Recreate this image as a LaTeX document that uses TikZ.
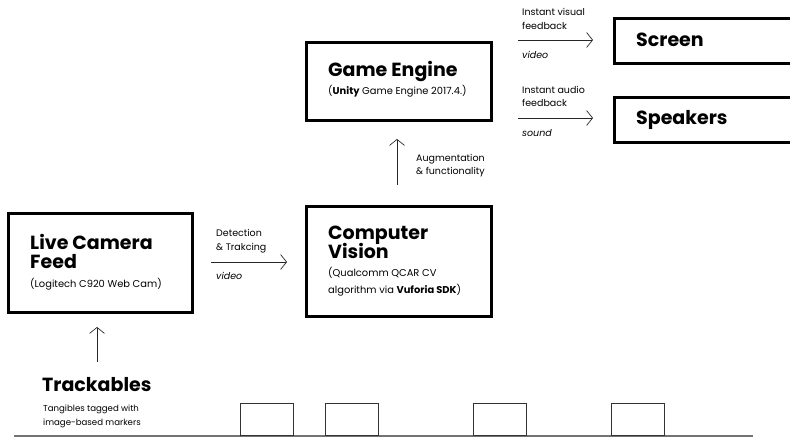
\documentclass[tikz,border=0pt]{standalone}
\usepackage{fontspec}
\setmainfont{Poppins}
\usetikzlibrary{arrows.meta}
\tikzset{
  box/.style={draw=black, line width=2.6pt, minimum width=#1, anchor=north west, inner sep=0pt},
  head/.style={anchor=base west, inner sep=0pt, font=\fontsize{19}{19}\selectfont\bfseries},
  sub/.style={anchor=base west, inner sep=0pt, font=\fontsize{9.9}{11}\selectfont},
  lab/.style={anchor=base west, inner sep=0pt, font=\fontsize{9.5}{11}\selectfont},
  ital/.style={lab, font=\fontsize{9.5}{11}\selectfont\itshape},
  small/.style={sub, font=\fontsize{8.6}{10}\selectfont},
  arr/.style={-{Straight Barb[length=6pt,width=15pt]}, line width=0.7pt, draw=black!85},
  marker/.style={draw=black!80, line width=1pt, minimum width=53pt, minimum height=32pt, anchor=south west, inner sep=0pt},
}
\begin{document}
\begin{tikzpicture}[x=1pt,y=-1pt]
\useasboundingbox (0,0) rectangle (790,438);

% --- camera ---
\node[box=184pt, minimum height=99pt] (cam) at (7,212) {};
\node[head] (camA) at (30,250) {Live Camera};
\node[head] (camB) at (30,269) {Feed};
\node[sub] (camC) at (30,288) {(Logitech C920 Web Cam)};

% --- computer vision ---
\node[box=185pt, minimum height=110pt] (cv) at (305,205) {};
\node[head] (cvA) at (328,240) {Computer};
\node[head] (cvB) at (328,259) {Vision};
\node[sub] (cvC) at (328,277) {(Qualcomm QCAR CV};
\node[sub] (cvD) at (328,294) {algorithm via \textbf{Vuforia SDK})};

% --- game engine ---
\node[box=185pt, minimum height=78pt] (ge) at (305,41) {};
\node[head] (geA) at (328,77) {Game Engine};
\node[sub] (geB) at (328,95) {(\textbf{Unity} Game Engine 2017.4.)};

% --- outputs ---
\node[box=190pt, minimum height=45pt] (scr) at (613,17) {};
\node[head] (scrA) at (636,47) {Screen};
\node[box=190pt, minimum height=45pt] (spk) at (613,96) {};
\node[head] (spkA) at (636,125) {Speakers};

% --- arrows ---
\coordinate (d1) at (211,262); \coordinate (d2) at (287,262);
\draw[arr] (d1) -- (d2);
\node[lab] (dA) at (216,237) {Detection};
\node[lab] (dB) at (216,251) {\& Trakcing};
\node[ital] (dC) at (216,280) {video};

\coordinate (u1) at (397,185); \coordinate (u2) at (397,139);
\draw[arr] (u1) -- (u2);
\node[lab] (uA) at (416,162) {Augmentation};
\node[lab] (uB) at (416,175) {\& functionality};

\coordinate (v1) at (518,40); \coordinate (v2) at (593,40);
\draw[arr] (v1) -- (v2);
\node[lab] (vA) at (522,16) {Instant visual};
\node[lab] (vB) at (522,30) {feedback};
\node[ital] (vC) at (522,59) {video};

\coordinate (s1) at (518,118); \coordinate (s2) at (593,118);
\draw[arr] (s1) -- (s2);
\node[lab] (sA) at (522,94) {Instant audio};
\node[lab] (sB) at (522,107) {feedback};
\node[ital] (sC) at (522,137) {sound};

\coordinate (t1) at (97,362); \coordinate (t2) at (97,327);
\draw[arr] (t1) -- (t2);

% --- trackables ---
\node[head] (trA) at (42,391) {Trackables};
\node[small] (trB) at (43,411) {Tangibles tagged with};
\node[small] (trC) at (43,425) {image-based markers};

\draw[draw=black!55, line width=1.4pt] (14,436) -- (753,436);
\node[marker] (m1) at (240,436) {};
\node[marker] (m2) at (325,436) {};
\node[marker] (m3) at (473,436) {};
\node[marker] (m4) at (611,436) {};
\end{tikzpicture}
\end{document}
